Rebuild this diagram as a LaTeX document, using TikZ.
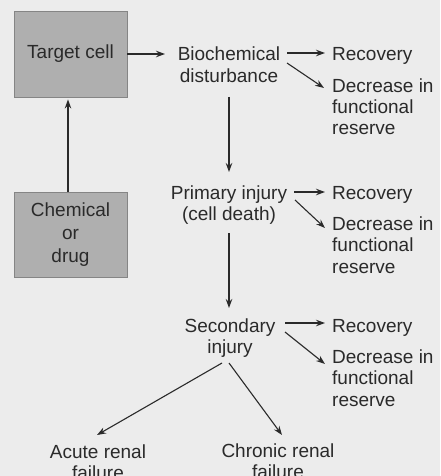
\documentclass[tikz,border=0pt]{standalone}
\usepackage{fontspec}
\setmainfont{Liberation Sans}
\usetikzlibrary{arrows.meta,calc}
\definecolor{bg}{HTML}{ECECEC}
\definecolor{boxfill}{HTML}{AFAFAF}
\definecolor{boxline}{HTML}{858585}
\definecolor{ink}{HTML}{2A2A2A}
\tikzset{
  lbl/.style={inner sep=0pt, text=ink, font=\fontsize{19}{21.5}\selectfont},
  cbox/.style={rectangle, draw=boxline, line width=0.9pt, fill=boxfill, inner sep=0pt,
    minimum width=113pt, text=ink, align=center},
  arr/.style={draw=ink, line width=1.1pt, -{Stealth[length=9pt,width=6.5pt]}}
}
\begin{document}
\begin{tikzpicture}[x=1pt,y=-1pt]
\useasboundingbox (0,0) rectangle (440,476);
\fill[bg] (0,0) rectangle (440,476);
\clip (0,0) rectangle (440,476);
% boxes
\node[cbox, minimum height=86pt, font=\fontsize{19}{21.5}\selectfont] (target) at (70.5,54) {Target cell};
\node[cbox, minimum height=85pt, font=\fontsize{19}{23}\selectfont] (chem) at (70.5,234.5) {Chemical\\or\\drug};
% middle column (base = baseline of last line)
\node[lbl, align=center, anchor=base] (bio) at (229,82.5) {Biochemical\\disturbance};
\node[lbl, align=center, anchor=base] (prim) at (229,220.5) {Primary injury\\(cell death)};
\node[lbl, align=center, anchor=base] (sec) at (230,353.5) {Secondary\\injury};
% right column
\node[lbl, anchor=base west] (rec1) at (332,61) {Recovery};
\node[lbl, align=left, anchor=base west] (dec1) at (332,135) {Decrease in\\functional\\reserve};
\node[lbl, anchor=base west] (rec2) at (332,199) {Recovery};
\node[lbl, align=left, anchor=base west] (dec2) at (332,273) {Decrease in\\functional\\reserve};
\node[lbl, anchor=base west] (rec3) at (332,332) {Recovery};
\node[lbl, align=left, anchor=base west] (dec3) at (332,406) {Decrease in\\functional\\reserve};
% bottom
\node[lbl, align=center, anchor=base] (acute) at (98,479.5) {Acute renal\\failure};
\node[lbl, align=center, anchor=base] (chronic) at (278,478.5) {Chronic renal\\failure};
% connectors
\draw[arr] ([xshift=-2.5pt]chem.north) -- ($(target.south)+(-2.5,2)$);
\draw[arr] (target.east) -- ($(bio.base)+(-64,-28.5)$);
\draw[arr] ($(bio.base)+(58,-29.5)$) -- ($(rec1.base west)+(-7,-8)$);
\draw[arr] ($(bio.base)+(58,-19.5)$) -- ($(dec1.base west)+(-8,-47)$);
\draw[arr] ($(bio.base)+(0,14.5)$) -- ($(prim.base)+(0,-48.5)$);
\draw[arr] ($(prim.base)+(65,-28.5)$) -- ($(rec2.base west)+(-7,-7)$);
\draw[arr] ($(prim.base)+(66,-20.5)$) -- ($(dec2.base west)+(-7,-45)$);
\draw[arr] ($(prim.base)+(0,12.5)$) -- ($(sec.base)+(-1,-45.5)$);
\draw[arr] ($(sec.base)+(55,-30.5)$) -- ($(rec3.base west)+(-7,-9)$);
\draw[arr] ($(sec.base)+(55,-21.5)$) -- ($(dec3.base west)+(-7,-42)$);
\draw[arr] ($(sec.base)+(-8,9.5)$) -- ($(acute.base)+(-1,-44.5)$);
\draw[arr] ($(sec.base)+(-1,9.5)$) -- ($(chronic.base)+(4,-43.5)$);
\end{tikzpicture}
\end{document}
